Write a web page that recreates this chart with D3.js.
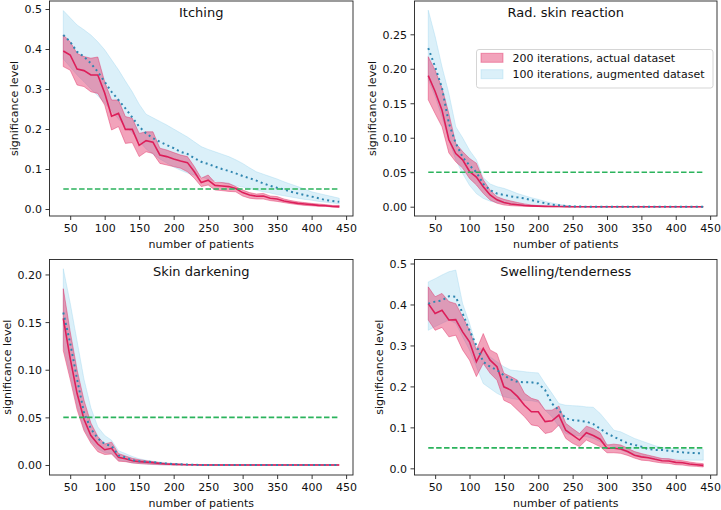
<!DOCTYPE html>
<html><head><meta charset="utf-8">
<script src="https://cdn.jsdelivr.net/npm/d3@7"></script>
<style>body{margin:0;background:#fff;} svg{display:block;font-family:"DejaVu Sans",sans-serif;}</style>
</head><body><svg id="c" width="721" height="510"></svg>
<script>
// ---------------- DATA ----------------
const patients = [40,50,60,70,80,90,100,110,120,130,140,150,160,170,180,190,200,210,220,230,240,250,260,270,280,290,300,310,320,330,340,350,360,370,380,390,400,410,420,430,440];
const xTicks = [50,100,150,200,250,300,350,400,450];
const titles = ["Itching","Rad. skin reaction","Skin darkening","Swelling/tenderness"];
const legendLabels = ["200 iterations, actual dataset","100 iterations, augmented dataset"];
const threshold = 0.05;
const xLabel = "number of patients";
const yLabel = "significance level";

const yTicksItching = [0,0.1,0.2,0.3,0.4,0.5];
const yTicksRad = [0,0.05,0.10,0.15,0.20,0.25];
const yTicksDark = [0,0.05,0.10,0.15,0.20];
const yTicksSwell = [0,0.1,0.2,0.3,0.4,0.5];

// Itching
const itchActMean = [0.395,0.385,0.35,0.346,0.335,0.335,0.29,0.232,0.239,0.199,0.199,0.159,0.171,0.167,0.135,0.131,0.125,0.12,0.116,0.093,0.066,0.072,0.059,0.0575,0.056,0.051,0.041,0.035,0.032,0.0325,0.027,0.025,0.02,0.017,0.014,0.0125,0.011,0.009,0.008,0.0065,0.006];
const itchActHigh = [0.435,0.418,0.389,0.381,0.377,0.38,0.318,0.2725,0.2725,0.231,0.227,0.189,0.193,0.193,0.152,0.1475,0.141,0.135,0.131,0.106,0.077,0.085,0.066,0.066,0.064,0.056,0.0475,0.041,0.0375,0.039,0.0325,0.031,0.025,0.021,0.018,0.016,0.014,0.0125,0.011,0.009,0.009];
const itchActLow = [0.356,0.347,0.31,0.306,0.293,0.289,0.26,0.1975,0.206,0.164,0.166,0.131,0.143,0.139,0.114,0.11,0.106,0.102,0.093,0.077,0.056,0.06,0.0475,0.046,0.044,0.043,0.0325,0.027,0.025,0.025,0.021,0.019,0.016,0.0133,0.011,0.009,0.008,0.0067,0.0067,0.005,0.004];
const itchAugMean = [0.435,0.418,0.393,0.381,0.364,0.343,0.318,0.293,0.2725,0.2517,0.229,0.206,0.189,0.177,0.168,0.16,0.152,0.143,0.1375,0.127,0.118,0.1125,0.106,0.1,0.095,0.089,0.0825,0.077,0.071,0.064,0.058,0.053,0.049,0.043,0.039,0.035,0.031,0.027,0.0225,0.02,0.018];
const itchAugHigh = [0.496,0.478,0.46,0.448,0.435,0.418,0.398,0.373,0.348,0.32,0.293,0.262,0.237,0.228,0.219,0.21,0.2,0.19,0.18,0.168,0.156,0.149,0.143,0.137,0.131,0.123,0.114,0.103,0.093,0.087,0.081,0.075,0.068,0.062,0.056,0.05,0.043,0.039,0.035,0.031,0.027];
const itchAugLow = [0.375,0.355,0.335,0.318,0.3,0.283,0.265,0.245,0.225,0.207,0.19,0.17,0.15,0.137,0.125,0.115,0.105,0.097,0.09,0.085,0.08,0.075,0.07,0.066,0.062,0.058,0.055,0.051,0.047,0.043,0.04,0.036,0.033,0.03,0.027,0.024,0.022,0.019,0.017,0.015,0.013];

// Rad. skin reaction
const radActMean = [0.19,0.167,0.14,0.097,0.077,0.068,0.051,0.043,0.029,0.017,0.01,0.006,0.004,0.0028,0.0018,0.0012,0.0008,0.0005,0.0003,0.0002,0.0001,0,0,0,0,0,0,0,0,0,0,0,0,0,0,0,0,0,0,0,0];
const radActHigh = [0.2175,0.198,0.172,0.135,0.092,0.08,0.07,0.063,0.039,0.024,0.0145,0.0107,0.0083,0.006,0.004,0.0025,0.0015,0.001,0.0006,0.0003,0.0002,0,0,0,0,0,0,0,0,0,0,0,0,0,0,0,0,0,0,0,0];
const radActLow = [0.155,0.135,0.116,0.078,0.065,0.056,0.041,0.0315,0.0194,0.0097,0.005,0.0025,0.0015,0.001,0.0005,0.0003,0.0002,0.0001,0,0,0,0,0,0,0,0,0,0,0,0,0,0,0,0,0,0,0,0,0,0,0];
const radAugMean = [0.23,0.203,0.172,0.121,0.092,0.072,0.06,0.05,0.033,0.024,0.019,0.017,0.015,0.0135,0.012,0.0095,0.0073,0.005,0.003,0.002,0.001,0.0005,0.0002,0,0,0,0,0,0,0,0,0,0,0,0,0,0,0,0,0,0];
const radAugHigh = [0.285,0.247,0.203,0.164,0.116,0.1,0.082,0.068,0.042,0.033,0.029,0.0266,0.023,0.019,0.016,0.013,0.0106,0.0077,0.0053,0.0034,0.002,0.001,0.0005,0.0002,0,0,0,0,0,0,0,0,0,0,0,0,0,0,0,0,0];
const radAugLow = [0.184,0.16,0.13,0.097,0.068,0.048,0.031,0.019,0.012,0.008,0.006,0.005,0.004,0.003,0.002,0.0015,0.001,0.0005,0,0,0,0,0,0,0,0,0,0,0,0,0,0,0,0,0,0,0,0,0,0,0];

// Skin darkening
const darkActMean = [0.154,0.112,0.075,0.048,0.031,0.022,0.016,0.0175,0.008,0.0065,0.0045,0.0035,0.003,0.0025,0.0015,0.001,0.0007,0.0005,0.0003,0.0002,0,0,0,0,0,0,0,0,0,0,0,0,0,0,0,0,0,0,0,0,0];
const darkActHigh = [0.185,0.14,0.1,0.068,0.044,0.03,0.022,0.024,0.012,0.0095,0.007,0.0055,0.0045,0.0035,0.0025,0.0018,0.0012,0.0008,0.0005,0.0003,0,0,0,0,0,0,0,0,0,0,0,0,0,0,0,0,0,0,0,0,0];
const darkActLow = [0.12,0.09,0.058,0.036,0.023,0.014,0.011,0.0115,0.004,0.0035,0.0022,0.0015,0.001,0.0007,0.0004,0.0002,0.0001,0,0,0,0,0,0,0,0,0,0,0,0,0,0,0,0,0,0,0,0,0,0,0,0];
const darkAugMean = [0.16,0.128,0.09,0.055,0.038,0.028,0.022,0.02,0.01,0.008,0.005,0.004,0.0035,0.003,0.0022,0.0015,0.001,0.0007,0.0004,0.0002,0,0,0,0,0,0,0,0,0,0,0,0,0,0,0,0,0,0,0,0,0];
const darkAugHigh = [0.206,0.17,0.13,0.09,0.06,0.04,0.031,0.026,0.015,0.012,0.009,0.0065,0.005,0.004,0.003,0.0022,0.0016,0.0012,0.0008,0.0005,0.0003,0.0002,0,0,0,0,0,0,0,0,0,0,0,0,0,0,0,0,0,0,0];
const darkAugLow = [0.125,0.095,0.062,0.038,0.025,0.017,0.013,0.012,0.005,0.004,0.002,0.0015,0.001,0.0005,0,0,0,0,0,0,0,0,0,0,0,0,0,0,0,0,0,0,0,0,0,0,0,0,0,0,0];

// Swelling/tenderness
const swellActMean = [0.402,0.378,0.386,0.362,0.363,0.333,0.309,0.26,0.293,0.264,0.248,0.199,0.191,0.175,0.154,0.138,0.138,0.114,0.116,0.13,0.093,0.081,0.069,0.087,0.08,0.071,0.049,0.049,0.047,0.041,0.032,0.028,0.026,0.022,0.0186,0.018,0.0145,0.0137,0.0105,0.0089,0.0072];
const swellActHigh = [0.443,0.419,0.427,0.407,0.402,0.37,0.337,0.289,0.329,0.289,0.28,0.232,0.224,0.215,0.183,0.171,0.166,0.142,0.142,0.152,0.11,0.097,0.085,0.103,0.097,0.087,0.057,0.059,0.057,0.049,0.041,0.036,0.032,0.028,0.024,0.0235,0.02,0.0186,0.0154,0.013,0.0113];
const swellActLow = [0.362,0.337,0.344,0.321,0.325,0.289,0.264,0.224,0.256,0.232,0.215,0.166,0.158,0.142,0.126,0.106,0.103,0.085,0.089,0.106,0.073,0.061,0.053,0.069,0.061,0.053,0.038,0.038,0.0365,0.0316,0.025,0.02,0.0186,0.0154,0.013,0.012,0.0089,0.008,0.0056,0.0048,0.0032];
const swellAugMean = [0.402,0.407,0.41,0.42,0.419,0.378,0.337,0.3,0.26,0.248,0.24,0.227,0.217,0.211,0.21,0.21,0.207,0.191,0.158,0.142,0.122,0.118,0.116,0.114,0.108,0.097,0.085,0.077,0.069,0.061,0.057,0.053,0.047,0.045,0.045,0.043,0.041,0.039,0.038,0.037,0.037];
const swellAugHigh = [0.455,0.463,0.472,0.48,0.484,0.402,0.354,0.297,0.289,0.272,0.26,0.248,0.24,0.238,0.236,0.234,0.233,0.207,0.183,0.158,0.154,0.153,0.152,0.15,0.149,0.134,0.114,0.093,0.089,0.081,0.073,0.067,0.061,0.055,0.051,0.049,0.047,0.046,0.046,0.046,0.046];
const swellAugLow = [0.337,0.346,0.354,0.362,0.354,0.321,0.289,0.248,0.207,0.195,0.183,0.175,0.171,0.168,0.166,0.165,0.162,0.142,0.126,0.102,0.085,0.081,0.08,0.077,0.073,0.065,0.057,0.053,0.045,0.038,0.032,0.028,0.026,0.024,0.023,0.022,0.022,0.021,0.02,0.02,0.02];

// ---------------- DRAW ----------------
const svg = d3.select("#c");
const C = {
  actual: "#dc1f5a", actualFill: "#e0245e", augFill: "#87ceeb", augLine: "#2f86b0", green: "#2bb35c", axis: "#222"
};

const panels = [
  {title: titles[0], act: [itchActMean, itchActLow, itchActHigh], aug: [itchAugMean, itchAugLow, itchAugHigh], yTicks: yTicksItching, fmt: ".1f", box: {l:49.5, r:353, t:1, b:216}, yDom: [-0.0175, 0.52]},
  {title: titles[1], act: [radActMean, radActLow, radActHigh], aug: [radAugMean, radAugLow, radAugHigh], yTicks: yTicksRad, fmt: ".2f", box: {l:414.5, r:717, t:1, b:216}, yDom: [-0.0135, 0.2983], legend: true},
  {title: titles[2], act: [darkActMean, darkActLow, darkActHigh], aug: [darkAugMean, darkAugLow, darkAugHigh], yTicks: yTicksDark, fmt: ".2f", box: {l:49.5, r:353, t:259.5, b:475}, yDom: [-0.0105, 0.2157]},
  {title: titles[3], act: [swellActMean, swellActLow, swellActHigh], aug: [swellAugMean, swellAugLow, swellAugHigh], yTicks: yTicksSwell, fmt: ".1f", box: {l:414.5, r:717, t:259.5, b:475}, yDom: [-0.0163, 0.5098]}
];

panels.forEach((p, pi) => {
  const b = p.box;
  const x = d3.scaleLinear().domain([20, 460]).range([b.l, b.r]);
  const y = d3.scaleLinear().domain(p.yDom).range([b.b, b.t]);
  const g = svg.append("g");
  const clipId = "clip" + pi;
  svg.append("clipPath").attr("id", clipId).append("rect")
    .attr("x", b.l).attr("y", b.t).attr("width", b.r - b.l).attr("height", b.b - b.t);
  const plot = g.append("g").attr("clip-path", `url(#${clipId})`);

  const rows = (arr) => patients.map((n, i) => ({n, m: arr[0][i], lo: arr[1][i], hi: arr[2][i]}));
  const act = rows(p.act), aug = rows(p.aug);
  const area = d3.area().x(d => x(d.n)).y0(d => y(d.lo)).y1(d => y(d.hi));
  const line = d3.line().x(d => x(d.n)).y(d => y(d.m));

  plot.append("path").datum(aug).attr("d", area)
    .attr("fill", C.augFill).attr("fill-opacity", 0.3)
    .attr("stroke", C.augFill).attr("stroke-opacity", 0.3).attr("stroke-width", 1);
  plot.append("path").datum(act).attr("d", area)
    .attr("fill", C.actualFill).attr("fill-opacity", 0.42)
    .attr("stroke", C.actualFill).attr("stroke-opacity", 0.42).attr("stroke-width", 1);
  plot.append("path").datum(act).attr("d", line)
    .attr("fill", "none").attr("stroke", C.actual).attr("stroke-width", 1.6);
  plot.append("path").datum(aug).attr("d", line)
    .attr("fill", "none").attr("stroke", C.augLine).attr("stroke-width", 2)
    .attr("stroke-dasharray", "2,3.3");
  plot.append("line")
    .attr("x1", x(patients[0])).attr("x2", x(patients[patients.length - 1]))
    .attr("y1", y(threshold)).attr("y2", y(threshold))
    .attr("stroke", C.green).attr("stroke-width", 1.6).attr("stroke-dasharray", "5.5,2.4");

  // axes
  const xa = g.append("g").attr("transform", `translate(0,${b.b})`)
    .call(d3.axisBottom(x).tickValues(xTicks).tickSize(4).tickPadding(3.5).tickFormat(d3.format("d")));
  const ya = g.append("g").attr("transform", `translate(${b.l},0)`)
    .call(d3.axisLeft(y).tickValues(p.yTicks).tickSize(4).tickPadding(3.5).tickFormat(d3.format(p.fmt)));
  [xa, ya].forEach(a => {
    a.select(".domain").remove();
    a.selectAll("line").attr("stroke", C.axis).attr("stroke-width", 0.9);
    a.selectAll("text").attr("fill", "#111").style("font-size", "11px").style("font-family", '"DejaVu Sans"');
  });
  ya.selectAll("text").attr("dy", "0.36em");
  xa.selectAll("text").attr("dy", "0.74em");

  g.append("rect").attr("x", b.l).attr("y", b.t).attr("width", b.r - b.l).attr("height", b.b - b.t)
    .attr("fill", "none").attr("stroke", C.axis).attr("stroke-width", 0.9);

  // title
  g.append("text").attr("x", (b.l + b.r) / 2).attr("y", b.t + 16)
    .attr("text-anchor", "middle").style("font-size", "13px").attr("fill", "#111").text(p.title);
  // x label
  g.append("text").attr("x", (b.l + b.r) / 2).attr("y", b.b + 31.5)
    .attr("text-anchor", "middle").style("font-size", "11px").attr("fill", "#111").text(xLabel);
  // y label (tick label bbox is in the axis group's local coordinates)
  const bb = ya.node().getBBox();
  const lx = b.l + bb.x - 7;
  g.append("text").attr("transform", `translate(${lx},${(b.t + b.b) / 2}) rotate(-90)`)
    .attr("text-anchor", "middle").style("font-size", "11px").attr("fill", "#111").text(yLabel);

  if (p.legend) {
    const lg = g.append("g");
    const L = {x: 476, y: 49, w: 236.5, h: 38.5};
    lg.append("rect").attr("x", L.x + 0.5).attr("y", L.y + 0.5).attr("width", L.w).attr("height", L.h)
      .attr("rx", 2.5).attr("fill", "#fff").attr("fill-opacity", 0.8).attr("stroke", "#d0d0d0").attr("stroke-width", 0.9);
    const items = [
      {label: legendLabels[0], fill: C.actualFill, op: 0.42},
      {label: legendLabels[1], fill: C.augFill, op: 0.3}
    ];
    items.forEach((it, i) => {
      const cy = 57.8 + i * 16.4;
      lg.append("rect").attr("x", 481).attr("y", cy - 4.5).attr("width", 22).attr("height", 9)
        .attr("fill", it.fill).attr("fill-opacity", it.op)
        .attr("stroke", it.fill).attr("stroke-opacity", it.op).attr("stroke-width", 1);
      lg.append("text").attr("x", 512.5).attr("y", cy + 4).style("font-size", "11px").attr("fill", "#111").text(it.label);
    });
  }
});
</script></body></html>
